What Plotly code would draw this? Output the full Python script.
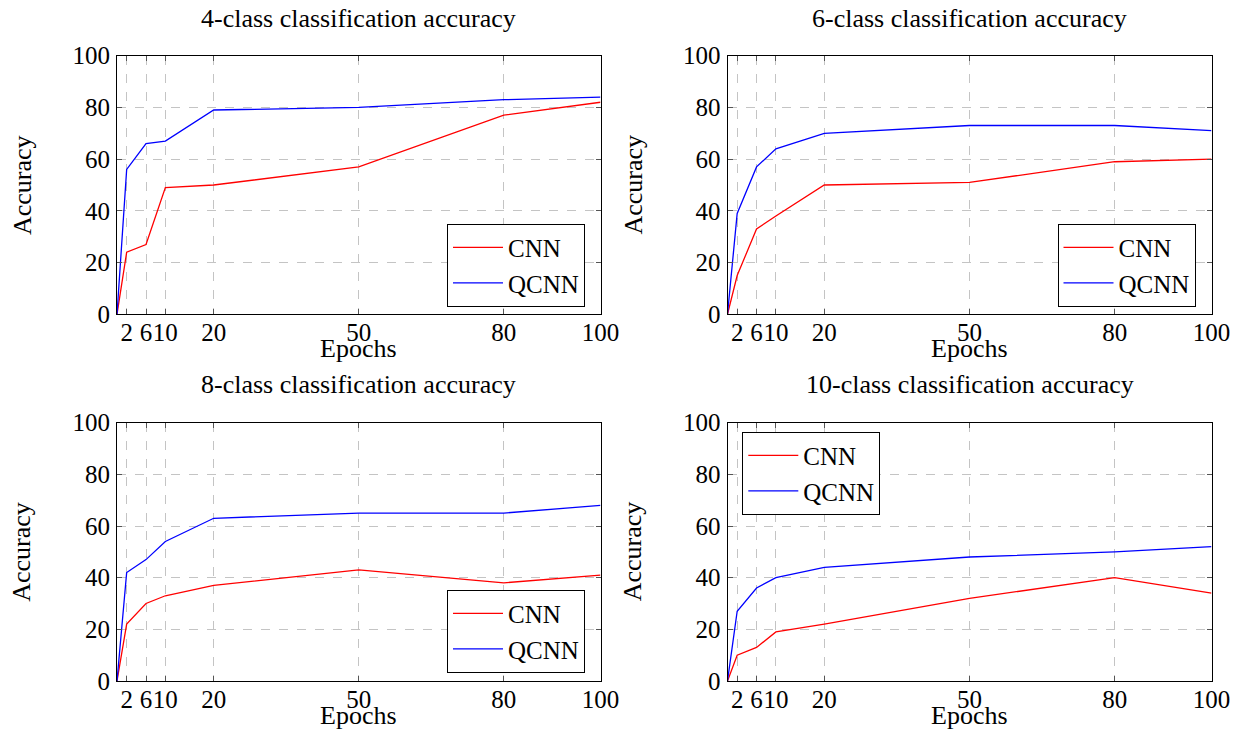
import plotly.graph_objects as go

epochs = [0, 2, 6, 10, 20, 50, 80, 100]
x_tickvals = [2, 6, 10, 20, 50, 80, 100]
y_tickvals = [0, 20, 40, 60, 80, 100]

titles = ["4-class classification accuracy", "6-class classification accuracy",
          "8-class classification accuracy", "10-class classification accuracy"]

cnn_4 = [0, 24, 27, 49, 50, 57, 77, 82]
qcnn_4 = [0, 56, 66, 67, 79, 80, 83, 84]
cnn_6 = [0, 15, 33, 38, 50, 51, 59, 60]
qcnn_6 = [0, 39, 57, 64, 70, 73, 73, 71]
cnn_8 = [0, 22, 30, 33, 37, 43, 38, 41]
qcnn_8 = [0, 42, 47, 54, 63, 65, 65, 68]
cnn_10 = [0, 10, 13, 19, 22, 32, 40, 34]
qcnn_10 = [0, 27, 36, 40, 44, 48, 50, 52]

series = [(cnn_4, qcnn_4), (cnn_6, qcnn_6), (cnn_8, qcnn_8), (cnn_10, qcnn_10)]

W, H = 1246, 732
FONT = "Liberation Serif"

# panel pixel boxes (left, right, top, bottom)
cols = [(117, 600.5), (727.5, 1211.5)]
rows = [(55.7, 314.3), (422.7, 681)]

fig = go.Figure()
layout = dict(
    width=W, height=H, margin=dict(l=0, r=0, t=0, b=0, pad=0, autoexpand=False),
    paper_bgcolor="white", plot_bgcolor="white",
    font=dict(family=FONT, size=25, color="black"),
    annotations=[],
)

legend_pos = [
    dict(x=585 / W, y=1 - 306.7 / H, xanchor="right", yanchor="bottom"),
    dict(x=1195.5 / W, y=1 - 306.7 / H, xanchor="right", yanchor="bottom"),
    dict(x=585 / W, y=1 - 672.7 / H, xanchor="right", yanchor="bottom"),
    dict(x=742.3 / W, y=1 - 431.7 / H, xanchor="left", yanchor="top"),
]

for i in range(4):
    r, c = divmod(i, 2)
    l, rr = cols[c]
    t, b = rows[r]
    xd = [l / W, rr / W]
    yd = [1 - b / H, 1 - t / H]
    sfx = "" if i == 0 else str(i + 1)
    xa = "x" + sfx
    ya = "y" + sfx
    lg = "legend" + sfx
    cnn, qcnn = series[i]
    fig.add_trace(go.Scatter(x=epochs, y=cnn, mode="lines", name="CNN",
                             line=dict(color="#ff0000", width=1.3),
                             xaxis=xa, yaxis=ya, legend=lg))
    fig.add_trace(go.Scatter(x=epochs, y=qcnn, mode="lines", name="QCNN",
                             line=dict(color="#0000ff", width=1.3),
                             xaxis=xa, yaxis=ya, legend=lg))
    common = dict(showgrid=True, gridcolor="#c4c4c4", griddash="dash", gridwidth=1,
                  showline=True, linecolor="black", linewidth=1, mirror="ticks",
                  ticks="inside", ticklen=5, tickcolor="#555555", zeroline=False,
                  tickfont=dict(family=FONT, size=25, color="black"), tickangle=0,
                  automargin=False)
    layout["xaxis" + sfx] = dict(common, domain=xd, range=[0, 100], tickvals=x_tickvals,
                                 ticktext=[str(v) for v in x_tickvals], anchor=ya,
                                 ticklabelstandoff=-4)
    layout["yaxis" + sfx] = dict(common, domain=yd, range=[0, 100], tickvals=y_tickvals,
                                 ticktext=[str(v) for v in y_tickvals], anchor=xa,
                                 ticklabelstandoff=1)
    layout[lg] = dict(legend_pos[i], bgcolor="white", bordercolor="black", borderwidth=1,
                      font=dict(family=FONT, size=25, color="black"), itemwidth=50,
                      tracegroupgap=0)
    cx = (l + rr) / 2
    layout["annotations"] += [
        dict(text=titles[i], x=cx / W, y=1 - (18 + 366.5 * r) / H, xref="paper", yref="paper",
             showarrow=False, xanchor="center", yanchor="middle",
             font=dict(family=FONT, size=26, color="black")),
        dict(text="Epochs", x=(cx - 0.5) / W, y=1 - (349 + 366.5 * r) / H, xref="paper", yref="paper",
             showarrow=False, xanchor="center", yanchor="middle",
             font=dict(family=FONT, size=26, color="black")),
        dict(text="Accuracy", x=(22 + 610.5 * c) / W, y=1 - ((t + b) / 2) / H, xref="paper", yref="paper",
             showarrow=False, xanchor="center", yanchor="middle", textangle=-90,
             font=dict(family=FONT, size=26, color="black")),
    ]

fig.update_layout(**layout)
fig.write_html("out.html", config={"displayModeBar": False},
               post_script="document.body.style.margin='0px';document.body.style.overflow='hidden';")
